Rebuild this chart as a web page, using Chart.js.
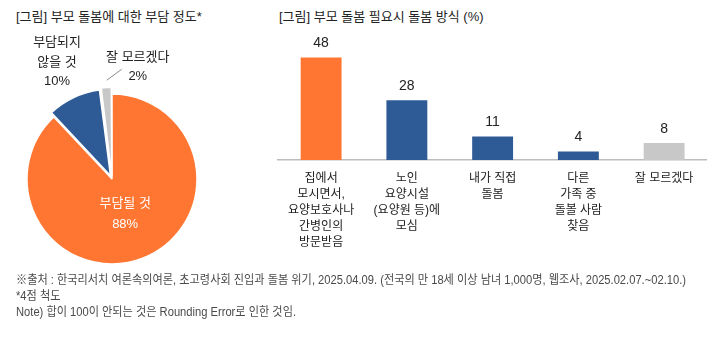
<!DOCTYPE html>
<html><head><meta charset="utf-8">
<script src="https://cdn.jsdelivr.net/npm/chart.js@4/dist/chart.umd.min.js"></script>
<style>
html,body{margin:0;padding:0;background:#fff;width:724px;height:337px;overflow:hidden;font-family:'Liberation Sans','Noto Sans CJK KR',sans-serif;color:#222;}
.abs{position:absolute;}
.title{font-size:13px;white-space:nowrap;line-height:1;color:#222;}
.note{font-size:12.5px;color:#4a4a4a;white-space:nowrap;transform-origin:0 50%;line-height:1;}
</style></head><body>
<div class="abs title" style="left:16px;top:10px">[그림] 부모 돌봄에 대한 부담 정도*</div>
<div class="abs title" style="left:279px;top:10px">[그림] 부모 돌봄 필요시 돌봄 방식 (%)</div>
<div class="abs" style="left:0;top:30px;width:224px;height:298px"><canvas id="pie"></canvas></div>
<div class="abs" style="left:277px;top:25px;width:430px;height:230px"><canvas id="bar"></canvas></div>
<div class="abs note" id="n1" style="left:16px;top:274px">※출처 : 한국리서치 여론속의여론, 초고령사회 진입과 돌봄 위기, 2025.04.09. (전국의 만 18세 이상 남녀 1,000명, 웹조사, 2025.02.07.~02.10.)</div>
<div class="abs note" id="n2" style="left:16px;top:290px">*4점 척도</div>
<div class="abs note" id="n3" style="left:16px;top:306px">Note) 합이 100이 안되는 것은 Rounding Error로 인한 것임.</div>
<script>
const FONT = "'Liberation Sans','Noto Sans CJK KR',sans-serif";

// Pie data
const pieLabels = ['부담될 것', '부담되지 않을 것', '잘 모르겠다'];
const pieLabelLines = [['부담될 것'], ['부담되지', '않을 것'], ['잘 모르겠다']];
const pieValues = [88, 10, 2];
const pieColors = ['#FF7632', '#2E5B96', '#C8C8C8'];

// Bar data
const barCategories = [
  ['집에서', '모시면서,', '요양보호사나', '간병인의', '방문받음'],
  ['노인', '요양시설', '(요양원 등)에', '모심'],
  ['내가 직접', '돌봄'],
  ['다른', '가족 중', '돌볼 사람', '찾음'],
  ['잘 모르겠다']
];
const barValues = [48, 28, 11, 4, 8];
const barColors = ['#FF7632', '#2E5B96', '#2E5B96', '#2E5B96', '#C8C8C8'];

// scale footnotes (condensed look)
(function(){
  const n1 = document.getElementById('n1');
  const f = 670 / n1.getBoundingClientRect().width;
  ['n1','n2','n3'].forEach(id => document.getElementById(id).style.transform = 'scaleX(' + f + ')');
})();

const pieLabelPlugin = {
  id: 'pieLabels',
  afterDatasetsDraw(chart) {
    const ctx = chart.ctx;
    const meta = chart.getDatasetMeta(0);
    const offs = chart.data.datasets[0].offset;
    meta.data.forEach((arc, i) => {
      const p = arc.getProps(['x','y','startAngle','endAngle','outerRadius'], true);
      const mid = (p.startAngle + p.endAngle) / 2;
      const cs = Math.cos(mid), sn = Math.sin(mid);
      const off = offs[i] || 0;
      const cx = p.x + cs * off, cy = p.y + sn * off;
      const lines = pieLabelLines[i].concat([pieValues[i] + '%']);
      ctx.save();
      ctx.textAlign = 'center';
      ctx.textBaseline = 'middle';
      ctx.font = '13px ' + FONT;
      if (i === 0) {
        const d = p.outerRadius * 0.42;
        const lx = cx + cs * d, ly = cy + sn * d;
        ctx.fillStyle = '#ffffff';
        ctx.fillText(lines[0], lx, ly - 8.5);
        ctx.fillText(lines[1], lx, ly + 12.5);
      } else if (i === 1) {
        const d = p.outerRadius + 30;
        const lx = cx + cs * d, ly = cy + sn * d;
        ctx.fillStyle = '#222';
        const sp = 19.5;
        lines.forEach((t, k) => ctx.fillText(t, lx, ly + (k - (lines.length - 1) / 2) * sp));
      } else {
        const ex = cx + cs * p.outerRadius, ey = cy + sn * p.outerRadius;
        ctx.strokeStyle = '#8a8a8a';
        ctx.lineWidth = 1;
        ctx.beginPath();
        ctx.moveTo(ex + 1, ey);
        ctx.lineTo(ex + 16, ey - 11);
        ctx.stroke();
        ctx.fillStyle = '#222';
        ctx.fillText(lines[0], ex + 32, ey - 23);
        ctx.fillText(lines[1], ex + 32, ey - 4);
      }
      ctx.restore();
    });
  }
};

new Chart(document.getElementById('pie'), {
  type: 'pie',
  data: {
    labels: pieLabels,
    datasets: [{
      data: pieValues,
      backgroundColor: pieColors,
      borderColor: '#ffffff',
      borderWidth: 1.5,
      offset: [0, 14, 14]
    }]
  },
  options: {
    responsive: true,
    maintainAspectRatio: false,
    animation: false,
    radius: 85,
    layout: { padding: 0 },
    plugins: { legend: { display: false }, tooltip: { enabled: false } }
  },
  plugins: [pieLabelPlugin]
});

const barValuePlugin = {
  id: 'barValues',
  afterDatasetsDraw(chart) {
    const ctx = chart.ctx;
    const meta = chart.getDatasetMeta(0);
    ctx.save();
    ctx.textAlign = 'center';
    ctx.textBaseline = 'middle';
    ctx.font = '14px ' + FONT;
    ctx.fillStyle = '#222';
    meta.data.forEach((bar, i) => {
      ctx.fillText(String(barValues[i]), bar.x, bar.y - 14);
    });
    ctx.restore();
  }
};

new Chart(document.getElementById('bar'), {
  type: 'bar',
  data: {
    labels: barCategories,
    datasets: [{
      data: barValues,
      backgroundColor: barColors,
      borderWidth: 0,
      categoryPercentage: 1,
      barPercentage: 0.477
    }]
  },
  options: {
    responsive: true,
    maintainAspectRatio: false,
    animation: false,
    layout: { padding: { top: 7, left: 0, right: 0, bottom: 0 } },
    plugins: { legend: { display: false }, tooltip: { enabled: false } },
    scales: {
      x: {
        grid: { display: false, drawTicks: false },
        border: { display: true, color: '#bdbdbd', width: 1.5 },
        ticks: { color: '#222', font: { family: FONT, size: 12, lineHeight: 16/12 }, padding: 11, maxRotation: 0, autoSkip: false },
        afterFit(s) { s.height = 95; }
      },
      y: { display: false, min: 0, max: 60 }
    }
  },
  plugins: [barValuePlugin]
});
</script>
</body></html>
